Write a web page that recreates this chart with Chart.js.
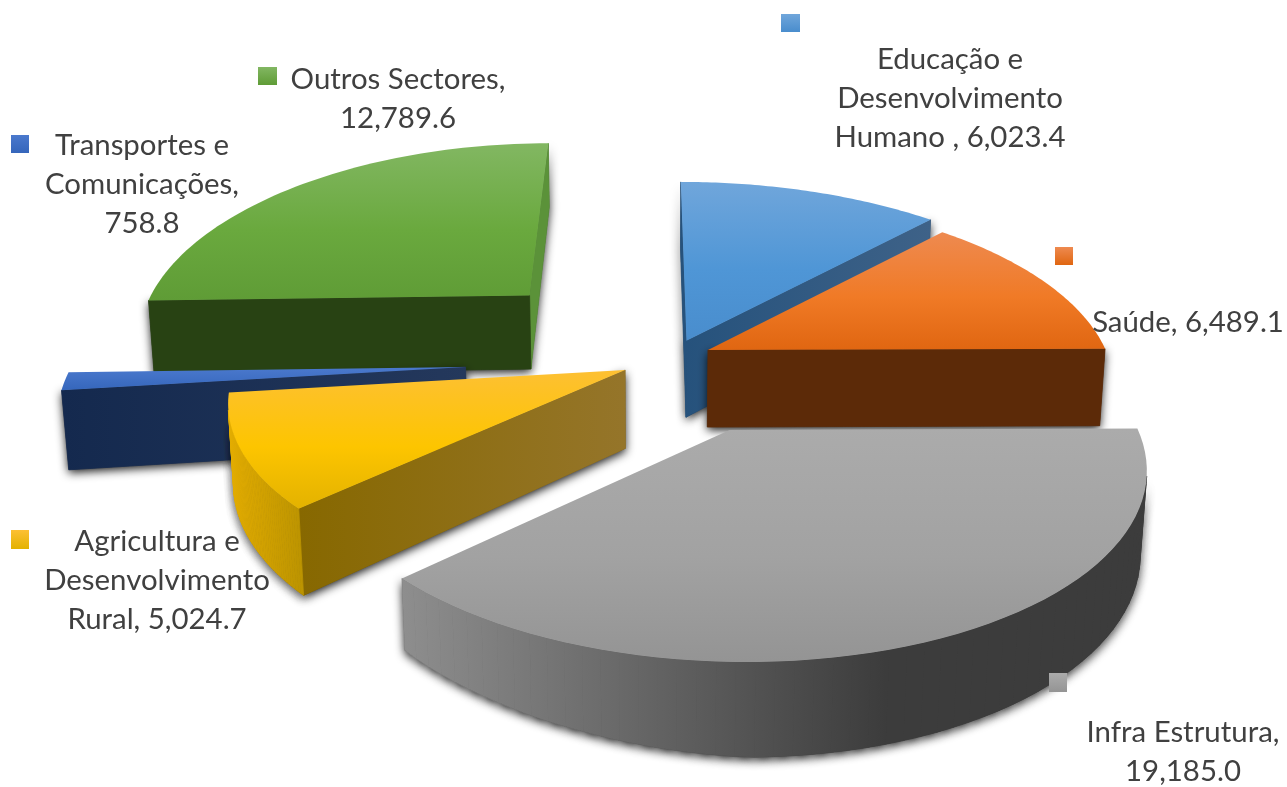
<!DOCTYPE html>
<html>
<head>
<meta charset="utf-8">
<title>Despesa por sector</title>
<script src="https://cdn.jsdelivr.net/npm/chart.js@4"></script>
<style>
  html, body { margin: 0; background: #fff; overflow: hidden; }
  #wrap { width: 1287px; height: 787px; }
</style>
</head>
<body>
<div id="wrap"><canvas id="chart" width="1287" height="787"></canvas></div>
<script>
// data, clockwise from 12 o'clock
const categories = ['Educação e Desenvolvimento Humano ', 'Saúde', 'Infra Estrutura', 'Agricultura e Desenvolvimento Rural', 'Transportes e Comunicações', 'Outros Sectores'];
const values = [6023.4, 6489.1, 19185.0, 5024.7, 758.8, 12789.6];
const baseColors = ['#5b9bd5', '#ed7d31', '#a5a5a5', '#ffc000', '#4472c4', '#70ad47'];

// how each category name breaks over the label lines
const labelBreaks = [['Educação e', 'Desenvolvimento', 'Humano'], ['Saúde'], ['Infra Estrutura'], ['Agricultura e', 'Desenvolvimento', 'Rural'], ['Transportes e', 'Comunicações'], ['Outros Sectores']];
// index of the line the value is appended to, or -1 for its own line
const valueOnLine = [2, 0, -1, 2, -1, -1];

// explode of each slice on the pie plane, in radii (x right, y away from viewer)
const explode = [[0.092, 0.05], [0.145, 0.0], [0.185, -0.399], [-0.061, -0.106], [-0.454, -0.09], [-0.318, 0.31]];
const sliceRadius = [1.0, 0.98, 0.89, 0.93, 0.97, 1.0];
const stretchX = [1.04, 1.015, 1.065, 1.03, 1.0, 1.0];
const stretchY = [1.03, 1.0, 1.0, 1.0, 1.0, 1.08];
const wallTilt = [0, 0, 0.3, 0, 0, 0];
const drawOrder = [5, 0, 1, 4, 3, 2];

const topStops = [['#70a6db', '#4f96d6', '#498dcd'], ['#ee8a50', '#f07a26', '#e06611'], ['#ababab', '#a2a2a2', '#949494'], ['#fdc033', '#fdc500', '#e3b200'], ['#4b79cd', '#3f6fc4', '#3566bb'], ['#82b762', '#6aa93e', '#5f9c36']];
// left and right colour of the wall along the first and the last radius of each slice
const startWall = [['#26527c', '#26527c'], ['#5c2a08', '#5c2a08'], ['#8c8c8c', '#8c8c8c'], ['#876800', '#95752a'], ['#14294e', '#24385c'], ['#284213', '#284213']];
const endWall = [['#26527c', '#3e6288'], ['#5c2a08', '#5c2a08'], ['#8c8c8c', '#8c8c8c'], ['#8c6c00', '#8c6c00'], ['#14294e', '#14294e'], ['#5b9239', '#5b9239']];
const rimWall = [['#4a8ccb', '#3e6288'], ['#5c2a08', '#7a3a10'], ['#8e8e8e', '#3c3c3c'], ['#e4ad00', '#bb9300'], ['#14294e', '#14294e'], ['#5b9239', '#284213']];
const rimGradEnd = [1, 1, 0.65, 1, 1, 1];

const labelBoxes = [
  { x: 950, y: 60, sq: [781, 14, 19, 18] },
  { x: 1188, y: 323, sq: [1055, 247, 18, 18] },
  { x: 1183, y: 733, sq: [1049, 673, 18, 19] },
  { x: 157, y: 542, sq: [11, 530, 18, 19] },
  { x: 142, y: 146, sq: [11, 135, 18, 18] },
  { x: 398, y: 80, sq: [258, 67, 19, 18] }
];
const lineGap = 38.8;
const fontCss = '29.4px Lato';

// camera
const persp = 0.18, squash = 0.465, depth = 78, sink = 0.012;

function fmt(v) {
  return v.toLocaleString('en-US', { minimumFractionDigits: 1, maximumFractionDigits: 1 });
}

const pie3d = {
  id: 'pie3d',
  beforeDatasetsDraw(chart) {
    const ctx = chart.ctx;
    const arcs = chart.getDatasetMeta(0).data;
    const R0 = arcs[0].outerRadius * 1.016;
    const cx = arcs[0].x + 6.5, cy = arcs[0].y - 43.5;
    const project = (px, py, z) => {
      const w = 1 + persp * py + sink * z;
      return [cx + R0 * px / w, cy + (-R0 * squash * py + depth * z) / w];
    };
    drawOrder.forEach(i => {
      const arc = arcs[i];
      const a0 = arc.startAngle + Math.PI / 2, a1 = arc.endAngle + Math.PI / 2;
      const [ex, ey] = explode[i], r = sliceRadius[i];
      const n = 60, rim = [];
      for (let k = 0; k <= n; k++) {
        const t = a0 + (a1 - a0) * k / n;
        rim.push([ex + r * stretchX[i] * Math.sin(t), ey + r * stretchY[i] * Math.cos(t)]);
      }
      const apex = [ex, ey];
      // left part of a wall can be cut shorter
      const at = (p, z) => {
        const cut = Math.min(1, 1 + wallTilt[i] * (p[0] - ex));
        return project(p[0], p[1], z * cut);
      };
      const front = (a, b) => {
        const q = [at(a, 0), at(b, 0), at(b, 1), at(a, 1)];
        let s = 0;
        q.forEach((p, j) => { const o = q[(j + 1) % 4]; s += p[0] * o[1] - o[0] * p[1]; });
        return s < 0 ? q : null;
      };
      const addQuad = (q) => {
        ctx.moveTo(q[0][0], q[0][1]);
        for (let j = 1; j < 4; j++) ctx.lineTo(q[j][0], q[j][1]);
        ctx.closePath();
      };
      const startQ = front(apex, rim[0]);
      const endQ = front(rim[n], apex);
      const rimQ = [];
      for (let k = 0; k < n; k++) { const q = front(rim[k], rim[k + 1]); if (q) rimQ.push(q); }
      const allWalls = [startQ, endQ].filter(Boolean).concat(rimQ);

      // soft shadow pass
      ctx.save();
      ctx.shadowColor = 'rgba(0,0,0,0.9)';
      ctx.shadowBlur = 10;
      ctx.shadowOffsetY = 3;
      ctx.fillStyle = '#333';
      allWalls.forEach(q => { ctx.beginPath(); addQuad(q); ctx.fill(); });
      ctx.restore();

      const hGrad = (pts, c, end = 1) => {
        const xs = pts.map(p => p[0]);
        const x0 = Math.min(...xs), x1 = Math.max(...xs);
        const g = ctx.createLinearGradient(x0, 0, x0 + (x1 - x0) * end, 0);
        g.addColorStop(0, c[0]); g.addColorStop(1, c[1]);
        return g;
      };
      const paint = (q, fill) => {
        ctx.beginPath(); addQuad(q);
        ctx.fillStyle = fill; ctx.strokeStyle = fill; ctx.lineWidth = 0.8;
        ctx.fill(); ctx.stroke();
      };
      if (endQ) paint(endQ, hGrad(endQ, endWall[i]));
      if (startQ) paint(startQ, hGrad(startQ, startWall[i]));
      if (rimQ.length) {
        const g = hGrad(rimQ.flat(), rimWall[i], rimGradEnd[i]);
        rimQ.forEach(q => paint(q, g));
      }

      // top face
      const ys = rim.map(p => at(p, 0)[1]).concat(at(apex, 0)[1]);
      const tg = ctx.createLinearGradient(0, Math.min(...ys), 0, Math.max(...ys));
      tg.addColorStop(0, topStops[i][0]);
      tg.addColorStop(0.55, topStops[i][1]);
      tg.addColorStop(1, topStops[i][2]);
      ctx.beginPath();
      const a = at(apex, 0);
      ctx.moveTo(a[0], a[1]);
      rim.forEach(p => { const s = at(p, 0); ctx.lineTo(s[0], s[1]); });
      ctx.closePath();
      ctx.fillStyle = tg;
      ctx.fill();
    });
    return false;
  },
  afterDraw(chart) {
    const ctx = chart.ctx;
    ctx.save();
    ctx.font = fontCss;
    ctx.textAlign = 'center';
    ctx.textBaseline = 'middle';
    categories.forEach((name, i) => {
      const box = labelBoxes[i];
      const lines = labelBreaks[i].slice();
      const val = fmt(values[i]);
      if (valueOnLine[i] >= 0) {
        const sep = name.endsWith(' ') ? ' , ' : ', ';
        lines[valueOnLine[i]] += sep + val;
      } else {
        lines[lines.length - 1] += ',';
        lines.push(val);
      }
      ctx.fillStyle = '#404040';
      lines.forEach((t, j) => ctx.fillText(t, box.x, box.y + j * lineGap));
      const [sx, sy, sw, sh] = box.sq;
      const g = ctx.createLinearGradient(0, sy, 0, sy + sh);
      g.addColorStop(0, topStops[i][0]);
      g.addColorStop(1, topStops[i][2]);
      ctx.fillStyle = g;
      ctx.fillRect(sx, sy, sw, sh);
    });
    ctx.restore();
  }
};

new Chart(document.getElementById('chart'), {
  type: 'pie',
  data: {
    labels: categories,
    datasets: [{ data: values, backgroundColor: baseColors, borderWidth: 0 }]
  },
  options: {
    responsive: false,
    animation: false,
    layout: { padding: 0 },
    plugins: { legend: { display: false }, tooltip: { enabled: false } }
  },
  plugins: [pie3d]
});
</script>
</body>
</html>
